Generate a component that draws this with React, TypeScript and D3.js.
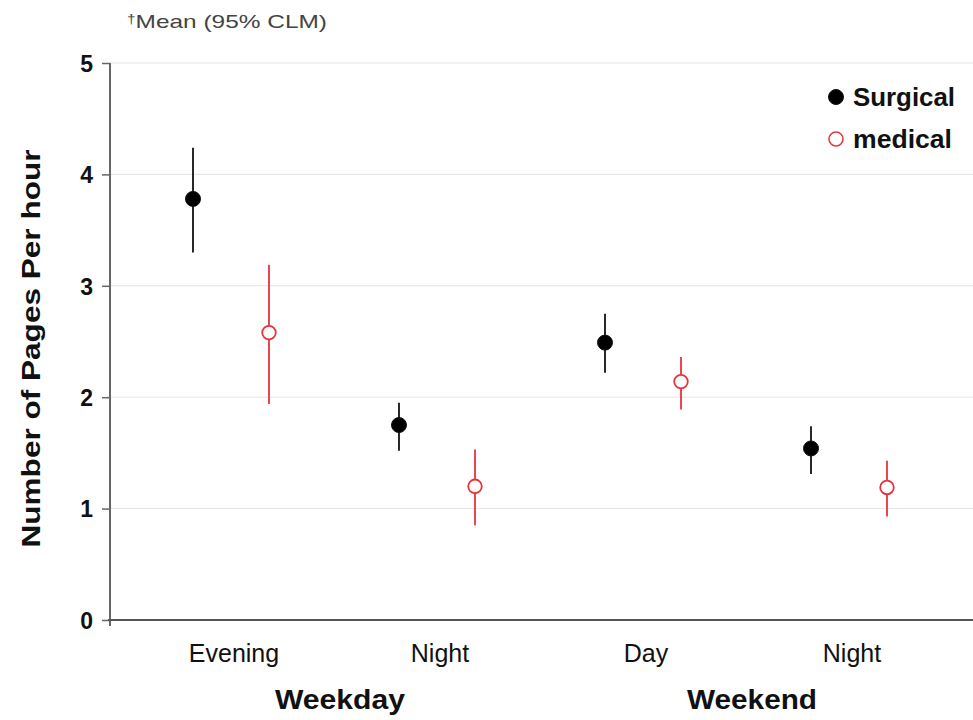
import React, { useEffect, useRef } from 'react';
import * as d3 from 'd3';

// x categories (two per group)
const categories = ['Evening', 'Night', 'Day', 'Night'];
const groups = ['Weekday', 'Weekend'];
const groupMembers = [[0, 1], [2, 3]];
const yTicks = [0, 1, 2, 3, 4, 5];

// mean with 95% CLM
const surgicalMean = [3.78, 1.75, 2.49, 1.54];
const surgicalLower = [3.30, 1.52, 2.22, 1.31];
const surgicalUpper = [4.24, 1.95, 2.75, 1.74];
const medicalMean = [2.58, 1.20, 2.14, 1.19];
const medicalLower = [1.94, 0.85, 1.89, 0.93];
const medicalUpper = [3.19, 1.53, 2.36, 1.43];

const seriesNames = ['Surgical', 'medical'];

const App = () => {
  const ref = useRef<SVGSVGElement>(null);

  useEffect(() => {
    if (!ref.current) return;
    const svg = d3.select(ref.current);
    svg.selectAll('*').remove();

    const width = 973;
    const height = 720;
    const margin = { top: 63, right: 0, bottom: 100, left: 110 };
    const font = '"Liberation Sans", Arial, sans-serif';

    const y = d3.scaleLinear()
      .domain([0, 5])
      .range([height - margin.bottom, margin.top]);

    const x = d3.scalePoint<number>()
      .domain(categories.map((_, i) => i))
      .range([231, 849]);
    const offset = 38;

    // grid
    svg.append('g')
      .selectAll('line')
      .data(yTicks.filter(t => t > 0))
      .join('line')
      .attr('x1', margin.left)
      .attr('x2', width)
      .attr('y1', d => y(d))
      .attr('y2', d => y(d))
      .attr('stroke', '#e4e4e4')
      .attr('stroke-width', 1);

    // y axis
    const yAxis = svg.append('g')
      .attr('transform', `translate(${margin.left},0)`)
      .call(d3.axisLeft(y).tickValues(yTicks).tickSize(8).tickPadding(9).tickFormat(d3.format('d')));
    yAxis.select('.domain').remove();
    yAxis.selectAll('.tick line').attr('stroke', '#666').attr('stroke-width', 1.5);
    yAxis.selectAll('.tick text')
      .attr('font-family', font)
      .attr('font-weight', 'bold')
      .attr('font-size', 23)
      .attr('fill', '#111')
      .attr('dy', '0.36em');

    svg.append('line')
      .attr('x1', margin.left).attr('x2', margin.left)
      .attr('y1', y(5)).attr('y2', y(0) + 6)
      .attr('stroke', '#666').attr('stroke-width', 2);
    svg.append('line')
      .attr('x1', margin.left - 2).attr('x2', width)
      .attr('y1', y(0)).attr('y2', y(0))
      .attr('stroke', '#555').attr('stroke-width', 2);

    // category labels
    svg.append('g')
      .selectAll('text')
      .data(categories)
      .join('text')
      .attr('x', (_, i) => x(i)! + 3)
      .attr('y', 662)
      .attr('text-anchor', 'middle')
      .attr('font-family', font)
      .attr('font-size', 25)
      .attr('fill', '#111')
      .text(d => d);

    // group labels
    svg.append('g')
      .selectAll('text')
      .data(groups)
      .join('text')
      .attr('x', (_, i) => d3.mean(groupMembers[i].map(c => x(c)!))! + 6)
      .attr('y', 709)
      .attr('text-anchor', 'middle')
      .attr('font-family', font)
      .attr('font-weight', 'bold')
      .attr('font-size', 27)
      .attr('textLength', 130)
      .attr('lengthAdjust', 'spacingAndGlyphs')
      .attr('fill', '#111')
      .text(d => d);

    // y title
    svg.append('text')
      .attr('transform', `translate(31,${(y(0) + y(5)) / 2 + 7}) rotate(-90)`)
      .attr('text-anchor', 'middle')
      .attr('dy', '0.35em')
      .attr('font-family', font)
      .attr('font-weight', 'bold')
      .attr('font-size', 25)
      .attr('textLength', 398)
      .attr('lengthAdjust', 'spacingAndGlyphs')
      .attr('fill', '#111')
      .text('Number of Pages Per hour');

    // note
    const note = svg.append('text')
      .attr('x', 127)
      .attr('y', 28)
      .attr('font-family', font)
      .attr('font-size', 19)
      .attr('fill', '#444')
      .attr('textLength', 200)
      .attr('lengthAdjust', 'spacingAndGlyphs');
    note.append('tspan').attr('font-size', 12).attr('dy', -5).text('†');
    note.append('tspan').attr('dy', 5).text('Mean (95% CLM)');

    const series = [
      { mean: surgicalMean, lower: surgicalLower, upper: surgicalUpper, dx: -offset, stroke: '#111', fill: '#000' },
      { mean: medicalMean, lower: medicalLower, upper: medicalUpper, dx: offset, stroke: '#e8323c', fill: '#fff' },
    ];

    series.forEach(s => {
      const g = svg.append('g');
      g.selectAll('line')
        .data(s.mean)
        .join('line')
        .attr('x1', (_, i) => x(i)! + s.dx)
        .attr('x2', (_, i) => x(i)! + s.dx)
        .attr('y1', (_, i) => y(s.upper[i]))
        .attr('y2', (_, i) => y(s.lower[i]))
        .attr('stroke', s.stroke)
        .attr('stroke-width', 1.8);
      g.selectAll('circle')
        .data(s.mean)
        .join('circle')
        .attr('cx', (_, i) => x(i)! + s.dx)
        .attr('cy', d => y(d))
        .attr('r', s.fill === '#000' ? 7.5 : 6.8)
        .attr('fill', s.fill)
        .attr('stroke', s.stroke)
        .attr('stroke-width', s.fill === '#000' ? 1 : 1.8);
    });

    // legend
    const legend = svg.append('g').attr('transform', 'translate(836,97)');
    seriesNames.forEach((name, i) => {
      const s = series[i];
      legend.append('circle')
        .attr('cx', 0)
        .attr('cy', i * 42)
        .attr('r', i === 0 ? 7.5 : 7)
        .attr('fill', s.fill)
        .attr('stroke', s.stroke)
        .attr('stroke-width', i === 0 ? 1 : 1.5);
      legend.append('text')
        .attr('x', 17)
        .attr('y', i * 42)
        .attr('dy', '0.36em')
        .attr('font-family', font)
        .attr('font-weight', 'bold')
        .attr('font-size', 25)
        .attr('textLength', i === 0 ? 102 : 99)
        .attr('lengthAdjust', 'spacingAndGlyphs')
        .attr('fill', '#111')
        .text(name);
    });
  }, []);

  return (
    <svg
      ref={ref}
      width={973}
      height={720}
      style={{ position: 'absolute', left: 0, top: 0, background: '#fff' }}
    />
  );
};

export default App;
